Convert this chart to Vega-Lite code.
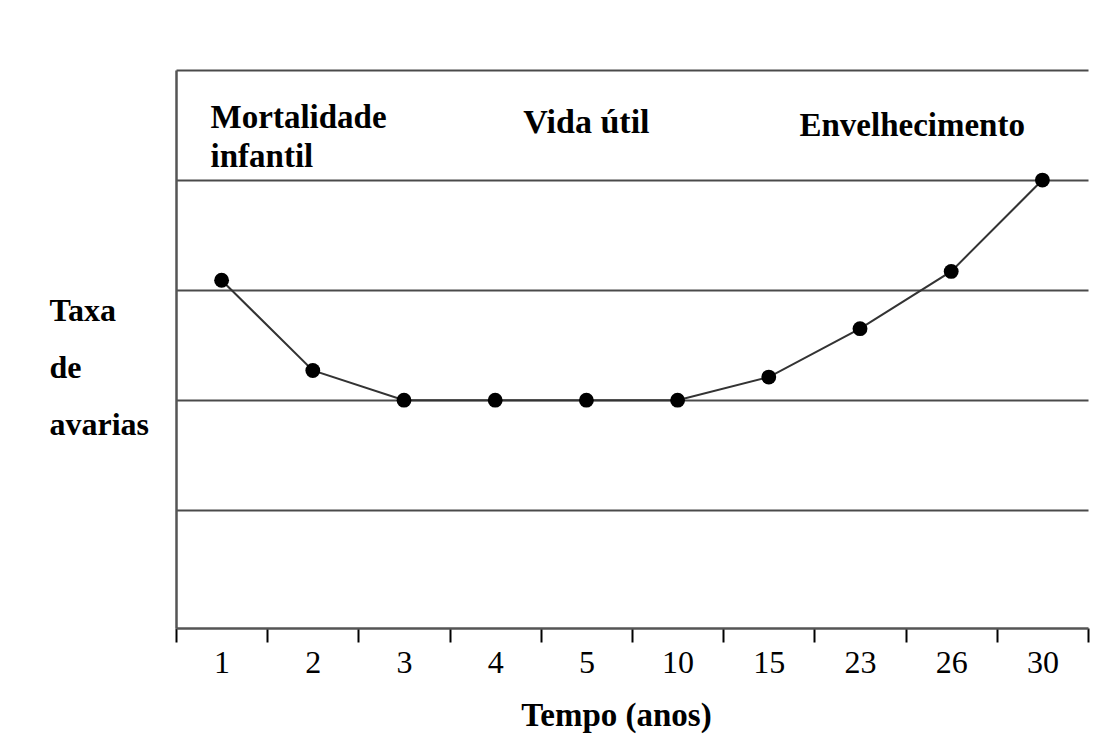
{
  "$schema": "https://vega.github.io/schema/vega-lite/v6.json",
  "width": 912,
  "height": 558,
  "autosize": {"type": "none"},
  "padding": {"left": 176, "top": 70, "right": 28, "bottom": 128},
  "background": "white",
  "config": {"view": {"stroke": null}, "font": "Liberation Serif"},
  "datasets": {
    "pontos": [
      {"ano": "1", "taxa": 3.09},
      {"ano": "2", "taxa": 2.27},
      {"ano": "3", "taxa": 2.0},
      {"ano": "4", "taxa": 2.0},
      {"ano": "5", "taxa": 2.0},
      {"ano": "10", "taxa": 2.0},
      {"ano": "15", "taxa": 2.21},
      {"ano": "23", "taxa": 2.65},
      {"ano": "26", "taxa": 3.17},
      {"ano": "30", "taxa": 4.0}
    ],
    "fases": [
      {"ano": "1", "taxa": 4.47, "texto": "Mortalidade\ninfantil"},
      {"ano": "5", "taxa": 4.43, "texto": "Vida útil"},
      {"ano": "26", "taxa": 4.4, "texto": "Envelhecimento"}
    ]
  },
  "encoding": {
    "x": {
      "field": "ano",
      "type": "ordinal",
      "sort": null,
      "scale": {"type": "band", "domain": ["1", "2", "3", "4", "5", "10", "15", "23", "26", "30"], "paddingInner": 0, "paddingOuter": 0},
      "axis": {
        "title": "Tempo (anos)",
        "tickBand": "extent",
        "domainColor": "#555555",
        "domainWidth": 2.5,
        "tickColor": "black",
        "tickWidth": 2,
        "tickSize": 14,
        "labelFont": "Liberation Serif",
        "labelFontSize": 32,
        "labelColor": "black",
        "labelPadding": 5,
        "labelAngle": 0,
        "grid": false,
        "titleFont": "Liberation Serif",
        "titleFontSize": 33,
        "titleFontWeight": "bold",
        "titleColor": "black",
        "titleX": 440,
        "titleY": 97,
        "titleBaseline": "alphabetic"
      }
    },
    "y": {
      "field": "taxa",
      "type": "quantitative",
      "scale": {"domain": [-0.07, 5], "nice": false, "zero": false},
      "axis": {
        "values": [1, 2, 3, 4, 5],
        "grid": true,
        "gridColor": "#4a4a4a",
        "gridWidth": 2,
        "labels": false,
        "ticks": false,
        "domainColor": "#555555",
        "domainWidth": 2.5,
        "title": ["Taxa", "de", "avarias"],
        "titleAngle": 0,
        "titleAlign": "left",
        "titleBaseline": "alphabetic",
        "titleX": -127,
        "titleY": 250,
        "titleFont": "Liberation Serif",
        "titleFontSize": 32,
        "titleFontWeight": "bold",
        "titleColor": "black",
        "titleLineHeight": 57
      }
    }
  },
  "layer": [
    {
      "data": {"name": "pontos"},
      "mark": {"type": "line", "color": "#333333", "strokeWidth": 2}
    },
    {
      "data": {"name": "pontos"},
      "mark": {"type": "point", "filled": true, "color": "black", "size": 220, "opacity": 1}
    },
    {
      "data": {"name": "fases"},
      "transform": [{"filter": "datum.ano == '1'"}],
      "mark": {"type": "text", "align": "left", "baseline": "alphabetic", "dx": -11, "fontSize": 33, "fontWeight": "bold", "color": "black", "lineBreak": "\n", "lineHeight": 39},
      "encoding": {"text": {"field": "texto"}}
    },
    {
      "data": {"name": "fases"},
      "transform": [{"filter": "datum.ano == '5'"}],
      "mark": {"type": "text", "align": "center", "baseline": "alphabetic", "fontSize": 34, "fontWeight": "bold", "color": "black"},
      "encoding": {"text": {"field": "texto"}}
    },
    {
      "data": {"name": "fases"},
      "transform": [{"filter": "datum.ano == '26'"}],
      "mark": {"type": "text", "align": "center", "baseline": "alphabetic", "dx": -39, "fontSize": 33, "fontWeight": "bold", "color": "black"},
      "encoding": {"text": {"field": "texto"}}
    }
  ]
}
